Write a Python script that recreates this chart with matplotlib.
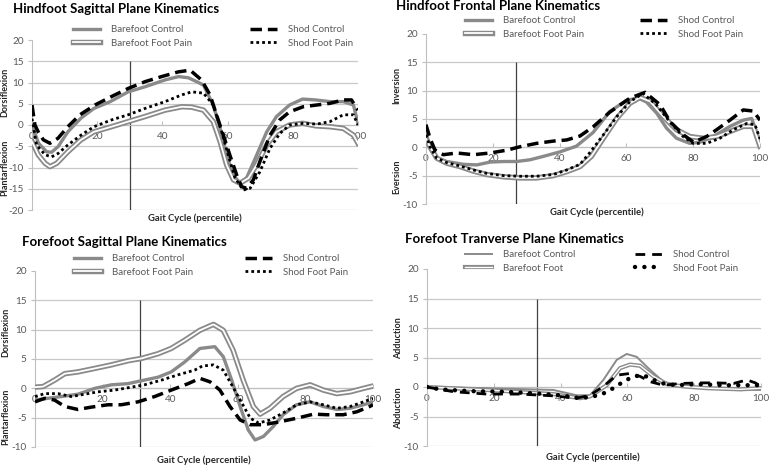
import matplotlib
matplotlib.use("Agg")
from matplotlib import pyplot as plt
from matplotlib import patheffects as pe

plt.rcParams['font.family'] = ['Lato', 'DejaVu Sans']
plt.rcParams['axes.unicode_minus'] = False

# ---- Hindfoot sagittal ----
p1_bc_x = [0, 2, 4.5, 6, 8, 11, 15, 19, 24, 29.5, 34.7, 40.8, 45, 48, 50.5, 52.6, 55.6, 57.7, 59.7,
           61.8, 63.8, 65.8, 68.9, 72, 75, 79, 83, 87, 91.4, 95.5, 98.6, 100]
p1_bc_y = [0, -4.3, -6.3, -6.4, -5.1, -1.6, 1.6, 3.9, 5.5, 7.8, 9.0, 10.6, 11.4, 11.1, 10.2, 9.4, 4.7,
           -0.8, -7.1, -11.8, -13.7, -12.5, -7.1, -1.6, 2.0, 4.7, 6.1, 5.9, 5.5, 5.5, 4.7, 0.4]
p1_bfp_x = [0, 1.9, 4, 5.5, 7.6, 11, 15, 19, 24.4, 29.5, 34.7, 40.8, 46, 49, 51, 52.6, 55.6, 57.7,
            59.7, 61.8, 63.8, 66.4, 68.9, 72, 75, 79, 83, 87, 91.4, 95.5, 98.6, 100]
p1_bfp_y = [-3.9, -7.0, -9.0, -9.8, -9.0, -6.3, -3.5, -1.6, -0.4, 0.8, 2.0, 3.5, 4.3, 4.2, 3.8, 3.5,
            0.8, -3.9, -9.4, -12.9, -13.7, -12.5, -9.4, -4.7, -1.6, 0.0, 0.4, -0.2, -0.4, -0.8, -2.4, -4.3]
p1_sc_x = [0, 0.9, 1.9, 3.5, 5.5, 8, 11, 14.7, 19.3, 24.4, 29.5, 34.7, 39.8, 44.9, 48.5, 52, 54.6,
           56.6, 58.7, 60.7, 62.8, 64.3, 65.8, 67.9, 69.9, 73, 76, 79, 83.2, 87.3, 91.4, 95.5, 98, 100]
p1_sc_y = [4.7, 0.0, -1.6, -3.5, -4.3, -3.1, -0.4, 2.4, 4.7, 6.7, 8.6, 10.2, 11.4, 12.5, 12.9, 10.6,
           7.1, 2.4, -2.4, -7.1, -11.8, -14.5, -14.9, -12.9, -8.6, -2.4, 1.2, 3.1, 4.3, 4.7, 5.1, 5.9, 5.9, 3.5]
p1_sfp_x = [0, 1.4, 4, 6, 8, 11, 15, 19, 24.4, 29.5, 34.7, 40.8, 46, 49, 52.6, 55.6, 58.2, 60.2,
            62.3, 64.8, 66.9, 69.9, 73, 76, 79, 83.2, 87.3, 91.4, 95.5, 98.6, 100]
p1_sfp_y = [1.5, -4.7, -7.0, -7.5, -6.7, -4.7, -2.4, -0.4, 1.2, 2.4, 3.9, 5.5, 7.1, 7.8, 7.5, 4.7,
            -1.6, -7.1, -12.5, -15.3, -14.9, -11.0, -5.5, -2.0, 0.0, 0.4, 0.2, 0.8, 2.4, 2.4, 0.0]

# ---- Hindfoot frontal ----
p2_bc_x = [0, 1.2, 3.2, 6.2, 11.2, 15.2, 19.2, 23.2, 27.1, 31.1, 35.1, 40.1, 45, 50, 55, 60, 63.5,
           66, 69.1, 72, 75, 79, 82, 86, 91, 95, 97.5, 100]
p2_bc_y = [2.8, -0.2, -1.9, -2.5, -3.0, -3.1, -2.6, -2.5, -2.5, -2.2, -1.6, -0.8, 0.2, 2.6, 6.3,
           8.3, 8.7, 8.0, 6.0, 3.4, 1.6, 0.7, 0.9, 1.9, 3.7, 4.8, 5.1, 1.0]
p2_bfp_x = [0, 1.2, 3.2, 6.2, 10.2, 14.2, 18.2, 23.2, 28.1, 33.1, 38.1, 42.1, 46.1, 49.5, 53.1,
            57.1, 61.1, 64.1, 67.1, 71.1, 75, 79, 83, 87, 91, 95, 98, 100]
p2_bfp_y = [1.5, 0.1, -1.9, -2.8, -3.4, -4.2, -4.8, -5.2, -5.4, -5.4, -5.0, -4.3, -3.4, -1.6, 1.6,
            5.1, 7.8, 8.8, 8.1, 5.4, 3.1, 1.9, 1.6, 1.9, 2.8, 3.7, 3.7, 0.2]
p2_sc_x = [0, 1.2, 2.7, 5.2, 9.2, 14.2, 19.2, 24.2, 28.1, 33.1, 38.1, 42.1, 46.1, 50, 55, 61.1,
           65.6, 70.1, 73.1, 77.1, 80.1, 84, 87, 91, 95, 98, 100]
p2_sc_y = [4.0, 1.6, -0.5, -1.3, -1.0, -1.3, -1.0, -0.5, 0.1, 0.7, 1.1, 1.3, 2.0, 3.6, 6.2, 8.7,
           9.7, 7.5, 4.5, 2.2, 0.9, 1.9, 3.1, 4.8, 6.6, 6.4, 4.8]
p2_sfp_x = [0, 1.2, 3.2, 6.2, 10.2, 14.2, 18.2, 23.2, 28.1, 33.1, 38.1, 42.1, 46.1, 49.1, 53.1,
            57.1, 61.1, 65, 69, 73, 77, 80, 84, 88, 92, 96, 98.5, 100]
p2_sfp_y = [2.2, 0.1, -1.9, -2.7, -3.3, -4.0, -4.6, -5.0, -5.1, -5.1, -4.8, -4.0, -3.0, -0.9, 2.2,
            5.4, 8.1, 9.5, 7.5, 4.5, 1.9, 0.7, 0.7, 1.6, 3.1, 4.2, 4.0, 1.5]

# ---- Forefoot sagittal ----
p3_bc_x = [0, 3.8, 7.8, 12.7, 17.7, 22.6, 27.5, 31.5, 36.4, 40.3, 44.3, 48.8, 53.2, 55.7, 58.2,
           60.7, 63.1, 65.1, 67.6, 70.5, 73.4, 77.4, 81.4, 85.3, 89.3, 93.2, 97.2, 100]
p3_bc_y = [-2.0, -1.7, -1.4, -1.0, 0.0, 0.6, 0.8, 1.3, 1.9, 2.8, 4.5, 6.8, 7.1, 5.4, 1.4, -3.1,
           -7.1, -8.8, -8.2, -6.5, -4.5, -2.8, -2.3, -3.1, -3.6, -3.4, -2.8, -2.3]
p3_bfp_x = [0, 2.4, 5.8, 8.8, 12.7, 17.7, 22.6, 27.5, 31.5, 36.4, 40.3, 44.3, 48.8, 52.8, 55.7,
            58.6, 61.6, 64.6, 66.6, 69.5, 73.4, 77.4, 81.4, 85.3, 89.3, 93.2, 97.2, 100]
p3_bfp_y = [0.2, 0.3, 1.4, 2.5, 2.8, 3.4, 4.0, 4.7, 5.1, 5.9, 6.8, 8.2, 9.9, 10.9, 9.9, 6.5, 1.4,
            -3.1, -4.4, -3.4, -1.4, 0.0, 0.6, -0.3, -0.9, -0.6, 0.0, 0.4]
p3_sc_x = [0, 2.9, 5.8, 8.8, 12.7, 16.7, 21.6, 25.5, 30.5, 35.4, 40.3, 45.3, 48.8, 51.8, 54.7,
           57.7, 60.7, 63.7, 67.6, 72.4, 77.4, 82.4, 86.3, 91.2, 95.2, 99, 100]
p3_sc_y = [-2.3, -1.7, -2.0, -3.1, -3.6, -3.2, -2.8, -2.8, -2.3, -1.4, -0.3, 0.8, 1.7, 1.1, -0.3,
           -3.1, -5.4, -6.2, -6.2, -5.7, -5.1, -4.4, -4.5, -4.5, -4.0, -3.1, -2.8]
p3_sfp_x = [0, 2.9, 6.8, 10.7, 14.7, 18.6, 23.6, 28.5, 32.4, 37.4, 42.3, 47.2, 49.5, 52.8, 55.7,
            58.2, 61.2, 63.7, 66.2, 69.5, 73.4, 77.4, 81.4, 85.3, 89.3, 93.2, 97.2, 100]
p3_sfp_y = [-1.4, -0.9, -0.9, -1.4, -1.0, -0.6, -0.3, 0.2, 0.6, 1.4, 2.3, 3.1, 3.8, 4.0, 3.1, 0.6,
            -2.5, -5.1, -5.9, -5.4, -4.2, -2.8, -2.3, -2.8, -3.4, -3.1, -2.3, -1.7]

# ---- Forefoot transverse ----
p4_bc_x = [0, 17.9, 37.8, 44.8, 48.8, 52.8, 56.8, 59.8, 62.8, 66.8, 70.8, 74.8, 80.7, 88.7, 100]
p4_bc_y = [0, -0.2, -0.5, -1.4, -1.4, 1.2, 4.6, 5.6, 5.1, 2.9, 0.9, 0.3, -0.1, -0.4, -0.5]
p4_bf_x = [0, 17.9, 37.8, 45.8, 48.8, 53.8, 57.8, 60.8, 63.8, 67.8, 71.8, 76.8, 83.8, 93.8, 100]
p4_bf_y = [0, -0.5, -1.2, -1.9, -1.6, 0.3, 3.2, 3.8, 3.6, 1.8, 0.5, 0.1, -0.2, -0.4, -0.2]
p4_sc_x = [0, 7.9, 17.9, 27.8, 37.8, 44.8, 48.8, 52.8, 56.8, 60.8, 63.8, 66.8, 70.8, 75.8, 81.8,
           86.8, 91.8, 95.8, 98.3, 100]
p4_sc_y = [0, -0.8, -1.2, -1.2, -1.5, -1.9, -1.4, 0.1, 2.0, 2.3, 1.8, 0.9, 0.3, 0.6, 0.7, 0.7, 0.6,
           1.2, 0.7, 0.1]
p4_sfp_x = [0, 3.9, 12.9, 22.8, 32.8, 39.8, 45.8, 49.8, 52.8, 55.8, 58.8, 61.8, 64.8, 67.8, 70.8,
            74.8, 80.7, 88.7, 95.7, 100]
p4_sfp_y = [0, -0.4, -0.7, -0.8, -1.1, -1.4, -1.9, -1.6, -1.1, -0.2, 0.9, 1.8, 2.0, 1.2, 0.6, 0.3,
            0.5, 0.3, 0.3, 0.3]

titles = ['Hindfoot Sagittal Plane Kinematics', 'Hindfoot Frontal Plane Kinematics',
          'Forefoot Sagittal Plane Kinematics', 'Forefoot Tranverse Plane Kinematics']
x_ticks = [0, 20, 40, 60, 80, 100]
W, H = 778, 466
GRAY = '#8a8a8a'
TXT = '#595959'

fig = plt.figure(figsize=(W / 100, H / 100), dpi=100)


def px_axes(x0, x1, y_top, y_bot):
    return fig.add_axes([x0 / W, 1 - y_bot / H, (x1 - x0) / W, (y_bot - y_top) / H])


def style(ax, ymin, vline_x):
    ax.set_xlim(0, 100)
    ax.set_ylim(ymin, 20)
    ax.set_yticks(range(ymin, 21, 5))
    ax.set_xticks(x_ticks)
    for s in ['top', 'right']:
        ax.spines[s].set_visible(False)
    ax.spines['left'].set_color('#bfbfbf')
    ax.spines['bottom'].set_position(('data', 0))
    ax.spines['bottom'].set_color('#bfbfbf')
    ax.tick_params(axis='y', colors='#bfbfbf', labelcolor=TXT, labelsize=7.2, length=3, pad=3)
    ax.tick_params(axis='x', colors='#bfbfbf', labelcolor=TXT, labelsize=7.2, length=3,
                   direction='in', pad=5)
    ax.grid(axis='y', color='#c8c8c8', lw=0.9)
    ax.yaxis.get_gridlines()[-1].set_visible(False)
    ax.set_axisbelow(True)
    ax.vlines(vline_x, ymin, 15, color='#404040', lw=0.9, zorder=1)


def draw(ax, bc, bfp, sc, sfp, thin=False):
    lw = 1.4 if thin else 2.4
    outer = 3.0 if thin else 3.9
    inner = 1.0 if thin else 1.3
    h1, = ax.plot(bc[0], bc[1], color=GRAY, lw=lw, zorder=3)
    h2, = ax.plot(bfp[0], bfp[1], color='white', lw=inner, zorder=3,
                  path_effects=[pe.Stroke(linewidth=outer, foreground=GRAY), pe.Normal()])
    if thin:
        h3, = ax.plot(sc[0], sc[1], color='black', lw=2.0, ls=(0, (3.5, 2.5)), zorder=4)
        h4, = ax.plot(sfp[0], sfp[1], color='black', lw=3.2, ls=(0, (0.01, 2.1)),
                      dash_capstyle='round', zorder=4)
    else:
        h3, = ax.plot(sc[0], sc[1], color='black', lw=2.5, ls=(0, (3.3, 1.7)), zorder=4)
        h4, = ax.plot(sfp[0], sfp[1], color='black', lw=2.0, ls=(0, (1, 1.1)), zorder=4)
    return h1, h2, h3, h4


def add_legend(handles, labels, x, y):
    fig.legend(handles, labels, loc='upper left', bbox_to_anchor=(x / W, 1 - y / H),
               frameon=False, borderpad=0, borderaxespad=0, handlelength=2.8,
               handletextpad=1.1, labelspacing=0.5, fontsize=7, labelcolor=TXT)


def texts(title_xy, xlab_xy, ylab1, ylab2, title):
    fig.text(title_xy[0] / W, 1 - title_xy[1] / H, title, fontsize=9.5, fontweight='bold',
             va='center', ha='left')
    fig.text(xlab_xy[0] / W, 1 - xlab_xy[1] / H, 'Gait Cycle (percentile)', fontsize=6.8,
             fontweight='bold', va='center', ha='center', color='#262626')
    for lab, (x, y) in [ylab1, ylab2]:
        fig.text(x / W, 1 - y / H, lab, fontsize=6.5, fontweight='bold', rotation=90,
                 va='center', ha='center', color='#262626')


ax1 = px_axes(32, 358, 40, 210)
style(ax1, -20, 30)
hs = draw(ax1, (p1_bc_x, p1_bc_y), (p1_bfp_x, p1_bfp_y), (p1_sc_x, p1_sc_y), (p1_sfp_x, p1_sfp_y))
add_legend(hs[:2], ['Barefoot Control', 'Barefoot Foot Pain'], 73, 25)
add_legend(hs[2:], ['Shod Control', 'Shod Foot Pain'], 250, 25)
texts((13, 9), (195, 218), ('Dorsiflexion', (5, 92)), ('Plantarflexion', (5, 168)), titles[0])

ax2 = px_axes(426, 760, 34, 204)
style(ax2, -10, 27)
hs = draw(ax2, (p2_bc_x, p2_bc_y), (p2_bfp_x, p2_bfp_y), (p2_sc_x, p2_sc_y), (p2_sfp_x, p2_sfp_y))
add_legend(hs[:2], ['Barefoot Control', 'Barefoot Foot Pain'], 465, 16)
add_legend(hs[2:], ['Shod Control', 'Shod Foot Pain'], 640, 16)
texts((396, 6), (597, 212), ('Inversion', (397, 85)), ('Eversion', (397, 177)), titles[1])

ax3 = px_axes(35, 373, 271, 447)
style(ax3, -10, 31)
hs = draw(ax3, (p3_bc_x, p3_bc_y), (p3_bfp_x, p3_bfp_y), (p3_sc_x, p3_sc_y), (p3_sfp_x, p3_sfp_y))
add_legend(hs[:2], ['Barefoot Control', 'Barefoot Foot Pain'], 74, 254)
add_legend(hs[2:], ['Shod Control', 'Shod Foot Pain'], 245, 254)
texts((22, 242), (204, 460), ('Dorsiflexion', (6, 332)), ('Plantarflexion', (6, 417)), titles[2])

ax4 = px_axes(427, 761, 269, 446)
style(ax4, -10, 33)
hs = draw(ax4, (p4_bc_x, p4_bc_y), (p4_bf_x, p4_bf_y), (p4_sc_x, p4_sc_y), (p4_sfp_x, p4_sfp_y),
          thin=True)
add_legend(hs[:2], ['Barefoot Control', 'Barefoot Foot'], 465, 250)
add_legend(hs[2:], ['Shod Control', 'Shod Foot Pain'], 635, 250)
texts((405, 239), (593, 457), ('Adduction', (399, 338)), ('Abduction', (399, 408)), titles[3])

fig.savefig('out.png', dpi=100)
